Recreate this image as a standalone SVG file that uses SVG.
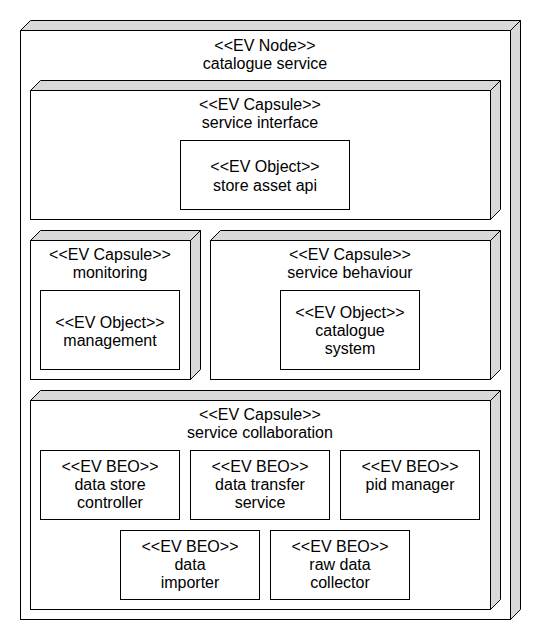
<svg xmlns="http://www.w3.org/2000/svg" width="540" height="640" viewBox="0 0 540 640">
<style>
.side{fill:#d9d9d9;stroke:#000;stroke-width:1;stroke-linejoin:miter}
.front{fill:#fff;stroke:#000;stroke-width:1}
.box{fill:#fff;stroke:#000;stroke-width:1}
text{font-family:"Liberation Sans",Arial,sans-serif;font-size:16px;fill:#000;text-anchor:middle}
</style>
<rect width="540" height="640" fill="#fff"/>
<g id="node-catalogue-service">
<path class="side" d="M20.5 30.5 L30.5 20.5 L520.5 20.5 L510.5 30.5 Z"/>
<path class="side" d="M510.5 30.5 L520.5 20.5 L520.5 609.5 L510.5 619.5 Z"/>
<rect class="front" x="20.5" y="30.5" width="490" height="589"/>
<text x="265" y="51">&lt;&lt;EV Node&gt;&gt;</text>
<text x="265" y="69">catalogue service</text>
</g>
<g id="capsule-service-interface">
<path class="side" d="M30.5 90.5 L40.5 80.5 L500.5 80.5 L490.5 90.5 Z"/>
<path class="side" d="M490.5 90.5 L500.5 80.5 L500.5 209.5 L490.5 219.5 Z"/>
<rect class="front" x="30.5" y="90.5" width="460" height="129"/>
<text x="260" y="110">&lt;&lt;EV Capsule&gt;&gt;</text>
<text x="260" y="128">service interface</text>
</g>
<g id="object-store-asset-api">
<rect class="box" x="180.5" y="140.5" width="169" height="69"/>
<text x="265" y="172">&lt;&lt;EV Object&gt;&gt;</text>
<text x="265" y="191">store asset api</text>
</g>
<g id="capsule-monitoring">
<path class="side" d="M30.5 240.5 L40.5 230.5 L200.5 230.5 L190.5 240.5 Z"/>
<path class="side" d="M190.5 240.5 L200.5 230.5 L200.5 369.5 L190.5 379.5 Z"/>
<rect class="front" x="30.5" y="240.5" width="160" height="139"/>
<text x="110" y="260">&lt;&lt;EV Capsule&gt;&gt;</text>
<text x="110" y="278">monitoring</text>
</g>
<g id="object-management">
<rect class="box" x="40.5" y="290.5" width="139" height="79"/>
<text x="110" y="328">&lt;&lt;EV Object&gt;&gt;</text>
<text x="110" y="346">management</text>
</g>
<g id="capsule-service-behaviour">
<path class="side" d="M210.5 240.5 L220.5 230.5 L500.5 230.5 L490.5 240.5 Z"/>
<path class="side" d="M490.5 240.5 L500.5 230.5 L500.5 369.5 L490.5 379.5 Z"/>
<rect class="front" x="210.5" y="240.5" width="280" height="139"/>
<text x="350" y="260">&lt;&lt;EV Capsule&gt;&gt;</text>
<text x="350" y="278">service behaviour</text>
</g>
<g id="object-catalogue-system">
<rect class="box" x="280.5" y="290.5" width="139" height="79"/>
<text x="350" y="318">&lt;&lt;EV Object&gt;&gt;</text>
<text x="350" y="336">catalogue</text>
<text x="350" y="354">system</text>
</g>
<g id="capsule-service-collaboration">
<path class="side" d="M30.5 400.5 L40.5 390.5 L500.5 390.5 L490.5 400.5 Z"/>
<path class="side" d="M490.5 400.5 L500.5 390.5 L500.5 599.5 L490.5 609.5 Z"/>
<rect class="front" x="30.5" y="400.5" width="460" height="209"/>
<text x="260" y="420">&lt;&lt;EV Capsule&gt;&gt;</text>
<text x="260" y="438">service collaboration</text>
</g>
<g id="beo-data-store-controller">
<rect class="box" x="40.5" y="450.5" width="139" height="69"/>
<text x="110" y="472">&lt;&lt;EV BEO&gt;&gt;</text>
<text x="110" y="490">data store</text>
<text x="110" y="508">controller</text>
</g>
<g id="beo-data-transfer-service">
<rect class="box" x="190.5" y="450.5" width="139" height="69"/>
<text x="260" y="472">&lt;&lt;EV BEO&gt;&gt;</text>
<text x="260" y="490">data transfer</text>
<text x="260" y="508">service</text>
</g>
<g id="beo-pid-manager">
<rect class="box" x="340.5" y="450.5" width="139" height="69"/>
<text x="410" y="472">&lt;&lt;EV BEO&gt;&gt;</text>
<text x="410" y="490">pid manager</text>
</g>
<g id="beo-data-importer">
<rect class="box" x="120.5" y="530.5" width="139" height="69"/>
<text x="190" y="552">&lt;&lt;EV BEO&gt;&gt;</text>
<text x="190" y="570">data</text>
<text x="190" y="588">importer</text>
</g>
<g id="beo-raw-data-collector">
<rect class="box" x="270.5" y="530.5" width="139" height="69"/>
<text x="340" y="552">&lt;&lt;EV BEO&gt;&gt;</text>
<text x="340" y="570">raw data</text>
<text x="340" y="588">collector</text>
</g>
<g id="connectors"></g>
</svg>
